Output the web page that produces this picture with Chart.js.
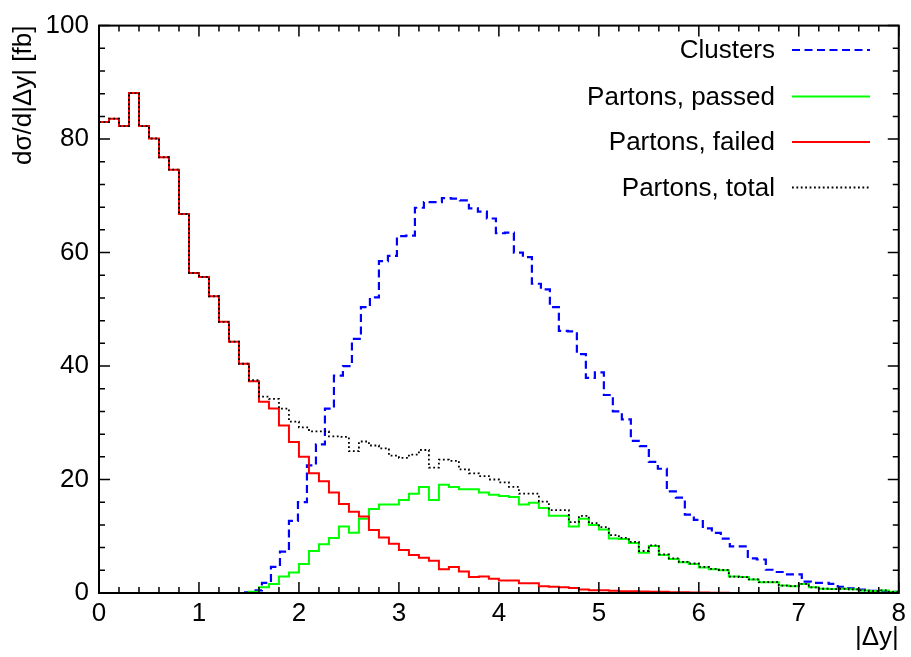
<!DOCTYPE html>
<html>
<head>
<meta charset="utf-8">
<script src="https://cdn.jsdelivr.net/npm/chart.js@4"></script>
<style>
  html, body { margin: 0; padding: 0; background: #ffffff; }
</style>
</head>
<body>
<canvas id="chart" width="911" height="657"></canvas>
<script>
// parton histograms: 80 bins of 0.1 from 0 to 8
const partonFirstEdge = 0;
const partonBinWidth = 0.1;
// cluster histogram uses its own bins
const clusterFirstEdge = 1.45;
const clusterBinWidth = 0.09;

const partonsPassed = [
  0, 0, 0, 0, 0, 0, 0, 0, 0, 0,
  0, 0, 0, 0, 0, 0.2, 1.0, 1.6, 2.9, 3.6,
  5.1, 7.4, 8.6, 9.7, 11.7, 10.6, 13.1, 14.8, 15.6, 15.6,
  16.4, 17.5, 18.7, 16.4, 19.1, 18.7, 18.3, 18.3, 17.7, 17.3,
  17.1, 16.9, 15.6, 15.9, 15.0, 13.6, 13.6, 11.7, 13.1, 12.0,
  11.2, 9.6, 9.5, 8.8, 7.1, 8.3, 6.7, 6.0, 5.4, 5.1,
  4.5, 4.2, 4.0, 2.9, 2.8, 2.4, 1.9, 1.9, 1.3, 1.2,
  1.6, 1.0, 0.75, 0.7, 0.75, 0.65, 0.45, 0.35, 0.45, 0.2,
];

const partonsFailed = [
  83.0, 83.6, 82.3, 88.1, 82.3, 80.1, 76.8, 74.6, 66.8, 56.4,
  55.7, 52.3, 47.8, 44.3, 40.4, 37.3, 33.7, 32.5, 29.5, 26.6,
  24.0, 21.1, 19.7, 17.7, 15.7, 14.3, 13.5, 11.1, 9.8, 8.7,
  7.6, 6.7, 6.2, 5.7, 4.2, 4.6, 3.8, 2.8, 2.9, 2.5,
  2.2, 2.2, 1.7, 1.7, 1.2, 1.1, 1.0, 0.9, 0.6, 0.5,
  0.5, 0.4, 0.3, 0.3, 0.25, 0.2, 0.2, 0.15, 0.15, 0.1,
  0.1, 0.05, 0.05, 0, 0, 0, 0, 0, 0, 0,
  0, 0, 0, 0, 0, 0, 0, 0, 0, 0,
];

const partonsTotal = [
  83.0, 83.6, 82.3, 88.1, 82.3, 80.1, 76.8, 74.6, 66.8, 56.4,
  55.7, 52.3, 47.8, 44.3, 40.4, 37.5, 34.6, 34.2, 32.5, 30.2,
  29.2, 28.5, 28.5, 27.6, 27.5, 25.0, 26.7, 26.0, 25.5, 24.2,
  23.8, 24.4, 25.2, 22.1, 23.5, 23.3, 21.8, 21.1, 20.6, 20.0,
  19.5, 18.7, 17.5, 17.5, 16.1, 14.6, 14.6, 12.5, 13.6, 12.3,
  11.6, 10.2, 9.7, 9.0, 7.4, 8.4, 6.8, 6.1, 5.5, 5.2,
  4.6, 4.25, 4.05, 2.9, 2.8, 2.4, 1.9, 1.9, 1.3, 1.2,
  1.6, 1.0, 0.75, 0.7, 0.75, 0.65, 0.45, 0.35, 0.45, 0.2,
];

const clusters = [
  0.1, 0.45, 1.8, 4.6, 7.3, 12.7, 16.0, 22.5, 26.2, 32.5,
  38.3, 40.0, 44.8, 50.4, 52.1, 58.5, 59.4, 62.9, 63.0, 67.9,
  68.9, 68.9, 69.6, 69.5, 69.2, 67.8, 67.2, 66.0, 63.4, 63.5,
  60.0, 59.2, 54.5, 53.5, 50.4, 46.2, 46.1, 42.1, 37.9, 38.9,
  34.9, 32.0, 30.6, 26.8, 25.9, 23.1, 21.9, 17.9, 16.8, 13.8,
  12.9, 11.4, 10.6, 9.6, 8.2, 8.2, 6.1, 5.9, 4.1, 3.7,
  3.3, 3.3, 2.0, 1.8, 1.8, 1.6, 1.1, 0.8, 0.6, 0.4,
  0.4, 0.3, 0.2,
];

const seriesLabels = ["Clusters", "Partons, passed", "Partons, failed", "Partons, total"];
const xTickValues = [0, 1, 2, 3, 4, 5, 6, 7, 8];
const yTickValues = [0, 20, 40, 60, 80, 100];
const minorPerMajor = 5;

const FONT = '"Liberation Sans", Arial, Helvetica, sans-serif';
Chart.defaults.font.family = FONT;
Chart.defaults.font.size = 26;
Chart.defaults.color = "#000";

// left bin edges + closing point, drawn as steps
function histogramPoints(firstEdge, width, values) {
  const pts = values.map((v, i) => ({ x: firstEdge + i * width, y: v }));
  pts.push({ x: firstEdge + values.length * width, y: 0 });
  return pts;
}

function drawTicks(ctx, scale, values, horizontal, area) {
  for (let i = 0; i < values.length; i += 1) {
    const from = values[i];
    const to = values[i + 1];
    const steps = to === undefined ? 1 : minorPerMajor;
    for (let s = 0; s < steps; s += 1) {
      const v = to === undefined ? from : from + ((to - from) * s) / steps;
      const p = scale.getPixelForValue(v);
      const len = s === 0 ? 11 : 6;
      ctx.beginPath();
      if (horizontal) {
        ctx.moveTo(p, area.bottom);
        ctx.lineTo(p, area.bottom - len);
        ctx.moveTo(p, area.top);
        ctx.lineTo(p, area.top + len);
      } else {
        ctx.moveTo(area.left, p);
        ctx.lineTo(area.left + len, p);
        ctx.moveTo(area.right, p);
        ctx.lineTo(area.right - len, p);
      }
      ctx.stroke();
    }
  }
}

const framePlugin = {
  id: "frame",
  afterDatasetsDraw(chart) {
    const { ctx, chartArea: a, scales } = chart;
    ctx.save();
    ctx.strokeStyle = "#000";
    ctx.lineWidth = 1.5;
    drawTicks(ctx, scales.x, xTickValues, true, a);
    drawTicks(ctx, scales.y, yTickValues, false, a);
    ctx.lineWidth = 2;
    ctx.strokeRect(a.left, a.top, a.right - a.left, a.bottom - a.top);
    ctx.restore();
  },
};

const keyPlugin = {
  id: "key",
  afterDraw(chart) {
    const { ctx } = chart;
    const rows = [50, 96.5, 142, 187.5];
    ctx.save();
    ctx.font = `26px ${FONT}`;
    ctx.textAlign = "right";
    ctx.textBaseline = "middle";
    chart.data.datasets.forEach((ds, i) => {
      const y = rows[i];
      ctx.fillStyle = "#000";
      ctx.fillText(ds.label, 775, y + 1);
      ctx.strokeStyle = ds.borderColor;
      ctx.lineWidth = ds.borderWidth;
      ctx.setLineDash(ds.borderDash || []);
      ctx.beginPath();
      ctx.moveTo(792, y);
      ctx.lineTo(870, y);
      ctx.stroke();
    });
    ctx.restore();
  },
};

new Chart(document.getElementById("chart"), {
  type: "line",
  data: {
    datasets: [
      {
        label: seriesLabels[0],
        data: histogramPoints(clusterFirstEdge, clusterBinWidth, clusters),
        borderColor: "#0000ff",
        borderWidth: 2.2,
        borderDash: [8, 4.5],
        order: 3,
      },
      {
        label: seriesLabels[1],
        data: histogramPoints(partonFirstEdge, partonBinWidth, partonsPassed),
        borderColor: "#00ff00",
        borderWidth: 2,
        order: 2,
      },
      {
        label: seriesLabels[2],
        data: histogramPoints(partonFirstEdge, partonBinWidth, partonsFailed),
        borderColor: "#ff0000",
        borderWidth: 2,
        order: 1,
      },
      {
        label: seriesLabels[3],
        data: histogramPoints(partonFirstEdge, partonBinWidth, partonsTotal),
        borderColor: "#000000",
        borderWidth: 1.8,
        borderDash: [1.8, 2.6],
        order: 0,
      },
    ],
  },
  options: {
    responsive: false,
    animation: false,
    devicePixelRatio: 1,
    layout: { padding: { left: 0, right: 12, top: 15, bottom: 0 } },
    elements: {
      line: { stepped: true, tension: 0, fill: false },
      point: { radius: 0, hoverRadius: 0 },
    },
    plugins: {
      legend: { display: false },
      tooltip: { enabled: false },
    },
    scales: {
      x: {
        type: "linear",
        min: 0,
        max: 8,
        afterBuildTicks: (scale) => {
          scale.ticks = xTickValues.map((v) => ({ value: v }));
        },
        afterFit: (scale) => {
          scale.height = 64;
        },
        grid: { display: false, drawTicks: false },
        border: { display: false },
        ticks: { padding: 5, maxRotation: 0, autoSkip: false, color: "#000" },
        title: {
          display: true,
          text: "|Δy|",
          align: "end",
          color: "#000",
          font: { size: 26 },
          padding: { top: 0, bottom: 4 },
        },
      },
      y: {
        type: "linear",
        min: 0,
        max: 100,
        afterBuildTicks: (scale) => {
          scale.ticks = yTickValues.map((v) => ({ value: v }));
        },
        afterFit: (scale) => {
          scale.width = 99;
        },
        grid: { display: false, drawTicks: false },
        border: { display: false },
        ticks: { padding: 10, color: "#000" },
        title: {
          display: true,
          text: "dσ/d|Δy| [fb]",
          align: "end",
          color: "#000",
          font: { size: 26 },
          padding: { top: 8, bottom: 0 },
        },
      },
    },
  },
  plugins: [framePlugin, keyPlugin],
});
</script>
</body>
</html>
